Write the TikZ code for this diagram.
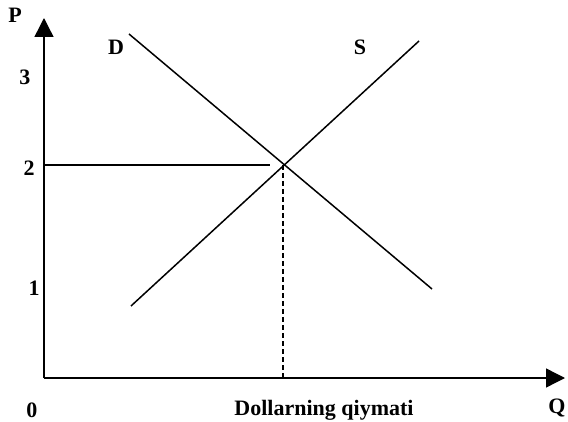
\documentclass[tikz,border=0pt]{standalone}
\usepackage{fontspec}
\setmainfont{Liberation Serif}
\usetikzlibrary{arrows.meta, positioning, calc}

\begin{document}
\begin{tikzpicture}[
        x=1pt, y=-1pt,
        >={Triangle[width=19pt, length=19pt]},
        line width=1.4pt,
        curve/.style={line width=1.5pt},
        axis_label/.style={font=\bfseries\fontsize{22}{22}\selectfont, inner sep=0pt}
    ]
        \useasboundingbox (0,0) rectangle (568,422);

        % Ejes (origen en el punto O)
        \coordinate (O) at (44,378);
        \coordinate (Ptop) at (44,18);
        \coordinate (Qend) at (565,378);
        \draw[->] (O) -- (Ptop);
        \draw[->] (O) -- (Qend);

        % Curvas de demanda y oferta
        \coordinate (D-1) at (129,34);
        \coordinate (D-2) at (432,289);
        \coordinate (S-1) at (131,306);
        \coordinate (S-2) at (419,41);
        \draw[curve] (D-1) -- (D-2);
        \draw[curve] (S-1) -- (S-2);

        % Punto de equilibrio
        \coordinate (E) at (283,165);
        \coordinate (E-axis) at (O |- E);
        \coordinate (E-end) at (270,165);
        \draw (E-axis) -- (E-end);
        \draw[dashed, line width=1.1pt, dash pattern=on 5pt off 3pt] (E) -- (E |- O);

        % Etiquetas
        \node[axis_label] (lblP) at (15,15) {P};
        \node[axis_label] (lbl3) at (25,77) {3};
        \node[axis_label] (lbl2) at (29,168) {2};
        \node[axis_label] (lbl1) at (34,288) {1};
        \node[axis_label] (lbl0) at (32,410) {0};
        \node[axis_label] (lblQ) at (557,408) {Q};
        \node[axis_label] (lblX) at (324,410) {Dollarning qiymati};
        \node[axis_label] (lblD) at (116,47) {D};
        \node[axis_label] (lblS) at (360,47) {S};

    \end{tikzpicture}
\end{document}
